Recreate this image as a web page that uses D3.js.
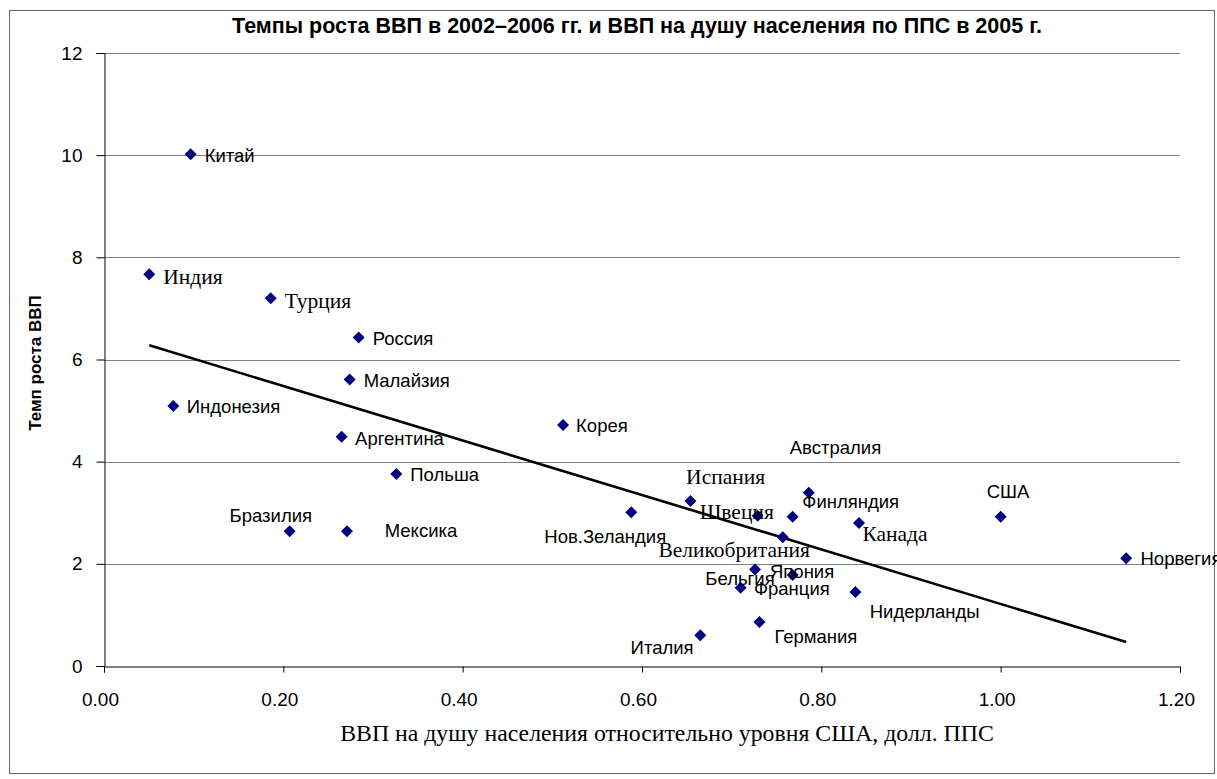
<!DOCTYPE html>
<html>
<head>
<meta charset="utf-8">
<script src="https://cdn.jsdelivr.net/npm/d3@7"></script>
<style>
  html, body { margin: 0; padding: 0; background: #fff; }
  svg { display: block; }
</style>
</head>
<body>
<svg id="chart" width="1217" height="779"></svg>
<script>
// ---------- DATA ----------
const countries = ["Китай","Индия","Турция","Россия","Малайзия","Индонезия","Аргентина","Польша",
  "Бразилия","Мексика","Корея","Нов.Зеландия","Испания","Швеция","Финляндия","Австралия","Канада",
  "Великобритания","Япония","Бельгия","Франция","Нидерланды","Германия","Италия","США","Норвегия"];
const gdpPerCapitaRelUS = [0.0967,0.0505,0.186,0.284,0.274,0.0773,0.265,0.326,
  0.207,0.271,0.512,0.588,0.654,0.729,0.768,0.786,0.842,
  0.757,0.726,0.768,0.710,0.838,0.731,0.665,1.000,1.140];
const gdpGrowth = [10.02,7.67,7.20,6.43,5.61,5.09,4.49,3.76,
  2.64,2.64,4.72,3.01,3.23,2.94,2.92,3.39,2.80,
  2.52,1.89,1.78,1.53,1.45,0.86,0.60,2.92,2.11];
const xTicks = [0,0.2,0.4,0.6,0.8,1.0,1.2];
const yTicks = [0,2,4,6,8,10,12];
const titleText = "Темпы роста ВВП в 2002–2006 гг. и ВВП на душу населения по ППС в 2005 г.";
const xTitle = "ВВП на душу населения относительно уровня США, долл. ППС";
const yTitle = "Темп роста ВВП";

// ---------- LAYOUT (label placement, not data) ----------
// [dx, dy, anchor, serif]
const labelLayout = [
  [14,1,"start",0],[14,3,"start",1],[14,2.4,"start",1],[14,1,"start",0],[14,1,"start",0],
  [13.5,1,"start",0],[13.5,1.6,"start",0],[14,1,"start",0],[-60,-16,"start",0],[37.7,-1,"start",0],
  [13,1,"start",0],[35,24,"end",0],[-4.3,-24,"start",1],[-58,-4,"start",1],[9.7,-15,"start",0],
  [-19,-45,"start",0],[3.4,10.7,"start",1],[-124.4,12.7,"start",1],[15,2.4,"start",0],
  [-87.3,3.3,"start",0],[13.3,0.6,"start",0],[14.3,20,"start",0],[15,14.3,"start",0],
  [-6.7,12,"end",0],[-14,-25,"start",0],[14.3,0,"start",0]
];

const SANS = "'Liberation Sans', Arial, sans-serif";
const SERIF = "'Liberation Serif', 'Times New Roman', serif";

const svg = d3.select("#chart");
const pLeft = 104, pRight = 1180, pTop = 53, pBottom = 666;

// outer border
svg.append("rect").attr("x", 9.5).attr("y", 10.5).attr("width", 1205).attr("height", 763)
  .attr("fill", "#fff").attr("stroke", "#666").attr("stroke-width", 1);

const x = d3.scaleLinear().domain([0, 1.2]).range([pLeft, pRight]);
const y = d3.scaleLinear().domain([0, 12]).range([pBottom, pTop]);

// gridlines
svg.append("g").selectAll("line").data(yTicks.filter(d => d > 0)).join("line")
  .attr("x1", pLeft).attr("x2", pRight)
  .attr("y1", d => Math.round(y(d)) + 0.5).attr("y2", d => Math.round(y(d)) + 0.5)
  .attr("stroke", "#808080").attr("stroke-width", 1);

// y axis
const gy = svg.append("g").attr("transform", `translate(${pLeft + 0.5},0)`)
  .call(d3.axisLeft(y).tickValues(yTicks).tickSize(8).tickPadding(14).tickFormat(d3.format("d")));
gy.select(".domain").attr("stroke", "#000");
gy.selectAll(".tick line").attr("stroke", "#000");
gy.selectAll(".tick text").attr("font-family", SANS).attr("font-size", 19).attr("fill", "#000");

// x axis
const gx = svg.append("g").attr("transform", `translate(0,${pBottom + 0.5})`)
  .call(d3.axisBottom(x).tickValues(xTicks).tickSize(6).tickPadding(20).tickFormat(d3.format(".2f")));
gx.select(".domain").attr("stroke", "#000");
gx.selectAll(".tick line").attr("stroke", "#000");
gx.selectAll(".tick text").attr("font-family", SANS).attr("font-size", 19).attr("fill", "#000").attr("dx", -4);

// trend line (least squares)
const n = gdpGrowth.length;
const mx = d3.mean(gdpPerCapitaRelUS), my = d3.mean(gdpGrowth);
let sxy = 0, sxx = 0;
for (let i = 0; i < n; i++) {
  sxy += (gdpPerCapitaRelUS[i] - mx) * (gdpGrowth[i] - my);
  sxx += (gdpPerCapitaRelUS[i] - mx) ** 2;
}
const slope = sxy / sxx, intercept = my - slope * mx;
const [xmin, xmax] = d3.extent(gdpPerCapitaRelUS);
svg.append("line")
  .attr("x1", x(xmin)).attr("y1", y(intercept + slope * xmin))
  .attr("x2", x(xmax)).attr("y2", y(intercept + slope * xmax))
  .attr("stroke", "#000").attr("stroke-width", 2.6);

// points
const pts = countries.map((c, i) => ({ c, vx: gdpPerCapitaRelUS[i], vy: gdpGrowth[i], L: labelLayout[i] }));
svg.append("g").selectAll("path").data(pts).join("path")
  .attr("d", "M0,-6L6,0L0,6L-6,0Z")
  .attr("transform", d => `translate(${x(d.vx)},${y(d.vy)})`)
  .attr("fill", "#000080");

// labels
svg.append("g").selectAll("text").data(pts).join("text")
  .attr("x", d => x(d.vx) + d.L[0])
  .attr("y", d => y(d.vy) + d.L[1])
  .attr("text-anchor", d => d.L[2])
  .attr("dominant-baseline", "central")
  .attr("font-family", d => d.L[3] ? SERIF : SANS)
  .attr("font-size", d => d.L[3] ? 21.5 : 18.5)
  .attr("fill", "#000")
  .text(d => d.c);

// titles
svg.append("text").attr("x", 637).attr("y", 26).attr("text-anchor", "middle")
  .attr("dominant-baseline", "central")
  .attr("font-family", SANS).attr("font-weight", "bold").attr("font-size", 21.5)
  .text(titleText);

svg.append("text").attr("x", 667).attr("y", 733).attr("text-anchor", "middle")
  .attr("dominant-baseline", "central")
  .attr("font-family", SERIF).attr("font-size", 23.8)
  .text(xTitle);

svg.append("text").attr("transform", "translate(35,363) rotate(-90)")
  .attr("text-anchor", "middle").attr("dominant-baseline", "central")
  .attr("font-family", SANS).attr("font-weight", "bold").attr("font-size", 17)
  .text(yTitle);
</script>
</body>
</html>
